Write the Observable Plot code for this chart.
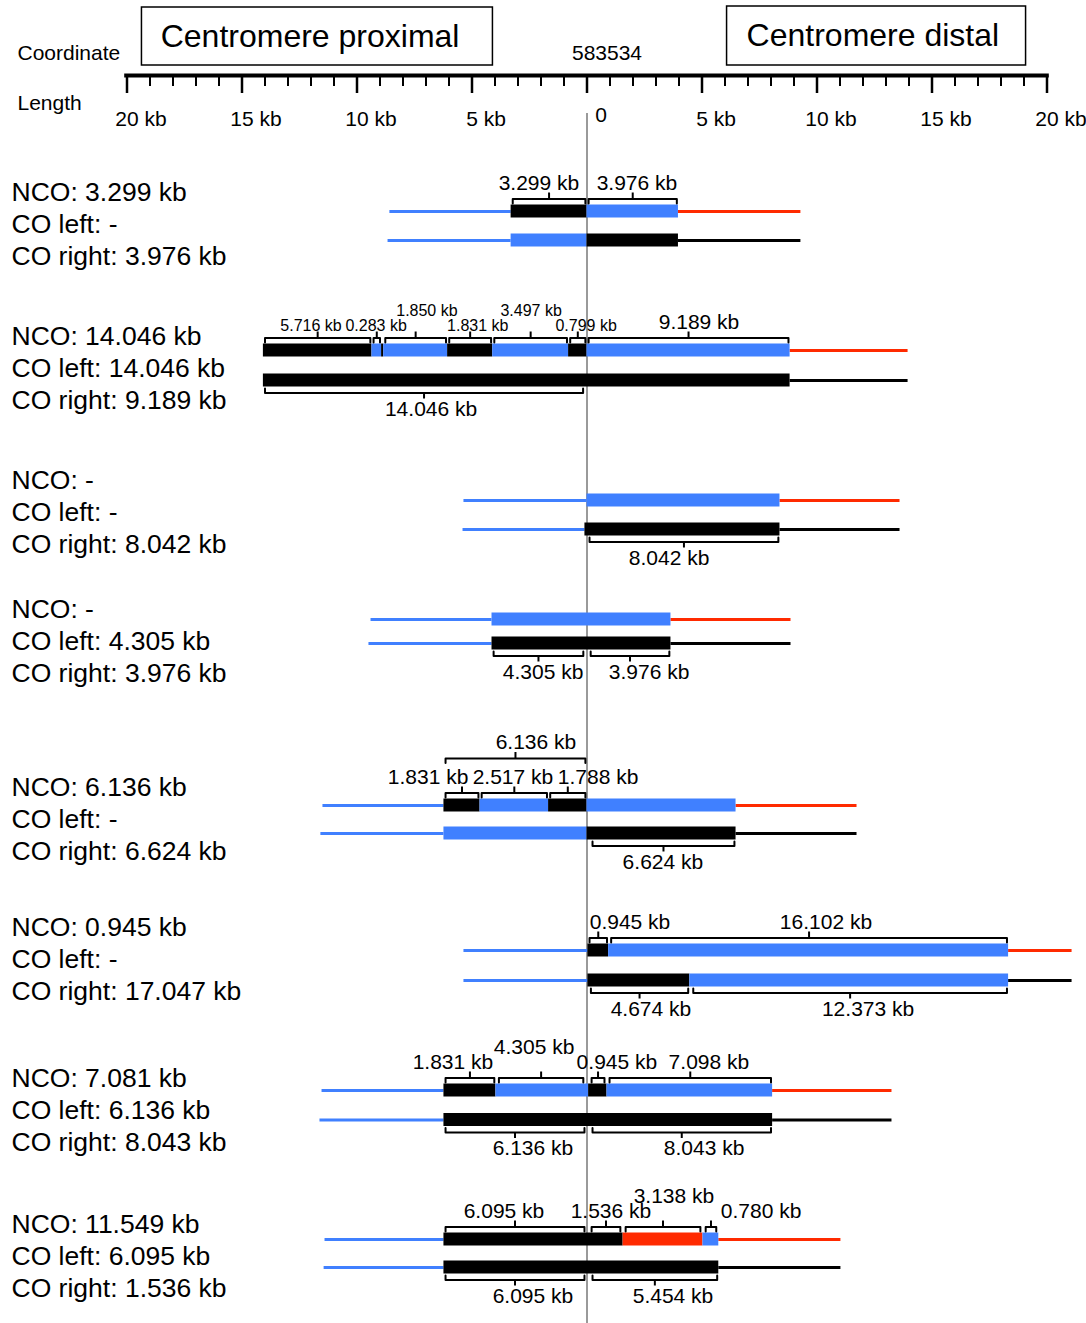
<!DOCTYPE html>
<html><head><meta charset="utf-8">
<script src="https://cdn.jsdelivr.net/npm/d3@7"></script>
<script src="https://cdn.jsdelivr.net/npm/@observablehq/plot@0.6"></script>
<style>html,body{margin:0;padding:0;background:#fff;} #chart svg{display:block}</style>
</head><body><div id="chart"></div>
<script>
// ---------------- data ----------------
const rowLabels = [
  ["NCO: 3.299 kb", "CO left: -", "CO right: 3.976 kb"],
  ["NCO: 14.046 kb", "CO left: 14.046 kb", "CO right: 9.189 kb"],
  ["NCO: -", "CO left: -", "CO right: 8.042 kb"],
  ["NCO: -", "CO left: 4.305 kb", "CO right: 3.976 kb"],
  ["NCO: 6.136 kb", "CO left: -", "CO right: 6.624 kb"],
  ["NCO: 0.945 kb", "CO left: -", "CO right: 17.047 kb"],
  ["NCO: 7.081 kb", "CO left: 6.136 kb", "CO right: 8.043 kb"],
  ["NCO: 11.549 kb", "CO left: 6.095 kb", "CO right: 1.536 kb"]
];
const axisMajor = [-20, -15, -10, -5, 0, 5, 10, 15, 20];
const axisMinor = d3.range(-20, 21, 1);
const axisTickLabels = ["20 kb", "15 kb", "10 kb", "5 kb", "0", "5 kb", "10 kb", "15 kb", "20 kb"];
const centerCoordinate = "583534";
const regionTitles = ["Centromere proximal", "Centromere distal"];
const alleles = ["K", "B", "R"]; // black, blue, red

// thick tracts: [row, track (0 top / 1 bottom), start kb, end kb, allele]
const segments = [
  [0,0,-3.299,0,"K"],[0,0,0,3.976,"B"],[0,1,-3.299,0,"B"],[0,1,0,3.976,"K"],
  [1,0,-14.07,-9.35,"K"],[1,0,-9.35,-8.93,"B"],[1,0,-8.93,-8.84,"K"],[1,0,-8.84,-6.06,"B"],
  [1,0,-6.06,-4.10,"K"],[1,0,-4.10,-0.80,"B"],[1,0,-0.80,0,"K"],[1,0,0,8.83,"B"],
  [1,1,-14.07,8.83,"K"],
  [2,0,0,8.39,"B"],[2,1,-0.09,8.39,"K"],
  [3,0,-4.13,3.65,"B"],[3,1,-4.13,3.65,"K"],
  [4,0,-6.22,-4.65,"K"],[4,0,-4.65,-1.67,"B"],[4,0,-1.67,0,"K"],[4,0,0,6.48,"B"],
  [4,1,-6.22,0,"B"],[4,1,0,6.48,"K"],
  [5,0,0.04,0.94,"K"],[5,0,0.94,18.33,"B"],[5,1,0.04,4.47,"K"],[5,1,4.47,18.33,"B"],
  [6,0,-6.22,-3.96,"K"],[6,0,-3.96,0.07,"B"],[6,0,0.07,0.87,"K"],[6,0,0.87,8.07,"B"],
  [6,1,-6.22,8.07,"K"],
  [7,0,-6.22,1.57,"K"],[7,0,1.57,5.04,"R"],[7,0,5.04,5.73,"B"],[7,1,-6.22,5.73,"K"]
];
// thin flanking lines: [row, track, start kb, end kb, allele]
const flanks = [
  [0,0,-8.57,-3.299,"B"],[0,0,3.976,9.30,"R"],[0,1,-8.65,-3.299,"B"],[0,1,3.976,9.30,"K"],
  [1,0,8.83,13.96,"R"],[1,1,8.83,13.96,"K"],
  [2,0,-5.35,0,"B"],[2,0,8.39,13.61,"R"],[2,1,-5.39,-0.09,"B"],[2,1,8.39,13.61,"K"],
  [3,0,-9.39,-4.13,"B"],[3,0,3.65,8.87,"R"],[3,1,-9.48,-4.13,"B"],[3,1,3.65,8.87,"K"],
  [4,0,-11.48,-6.22,"B"],[4,0,6.48,11.74,"R"],[4,1,-11.57,-6.22,"B"],[4,1,6.48,11.74,"K"],
  [5,0,-5.35,0.04,"B"],[5,0,18.33,21.09,"R"],[5,1,-5.35,0.04,"B"],[5,1,18.33,21.09,"K"],
  [6,0,-11.52,-6.22,"B"],[6,0,8.07,13.26,"R"],[6,1,-11.61,-6.22,"B"],[6,1,8.07,13.26,"K"],
  [7,0,-11.39,-6.22,"B"],[7,0,5.73,11.04,"R"],[7,1,-11.43,-6.22,"B"],[7,1,5.73,11.04,"K"]
];
// length brackets: row, track, from/to kb, text, label centre kb (at), nest / lift / small flags
const brackets = [
  {row:0,track:0,from:-3.299,to:0,text:"3.299 kb",at:-2.09},
  {row:0,track:0,from:0,to:3.976,text:"3.976 kb",at:2.17},
  {row:1,track:0,from:-14.07,to:-9.35,text:"5.716 kb",at:-12.0,small:1},
  {row:1,track:0,from:-9.35,to:-8.93,text:"0.283 kb",at:-9.17,small:1},
  {row:1,track:0,from:-8.84,to:-6.06,text:"1.850 kb",at:-6.96,small:1,lift:1},
  {row:1,track:0,from:-6.06,to:-4.10,text:"1.831 kb",at:-4.75,small:1},
  {row:1,track:0,from:-4.10,to:-0.80,text:"3.497 kb",at:-2.43,small:1,lift:1},
  {row:1,track:0,from:-0.80,to:0,text:"0.799 kb",at:-0.04,small:1},
  {row:1,track:0,from:0,to:8.83,text:"9.189 kb",at:4.87},
  {row:1,track:1,from:-14.07,to:-0.10,text:"14.046 kb",at:-6.78},
  {row:2,track:1,from:0.04,to:8.39,text:"8.042 kb",at:3.57},
  {row:3,track:1,from:-4.13,to:-0.09,text:"4.305 kb",at:-1.91},
  {row:3,track:1,from:0.09,to:3.65,text:"3.976 kb",at:2.70},
  {row:4,track:0,from:-6.22,to:0,text:"6.136 kb",at:-2.22,nest:1},
  {row:4,track:0,from:-6.22,to:-4.65,text:"1.831 kb",at:-6.91},
  {row:4,track:0,from:-4.65,to:-1.67,text:"2.517 kb",at:-3.22},
  {row:4,track:0,from:-1.67,to:0,text:"1.788 kb",at:0.48},
  {row:4,track:1,from:0.17,to:6.48,text:"6.624 kb",at:3.30},
  {row:5,track:0,from:0.04,to:0.94,text:"0.945 kb",at:1.87},
  {row:5,track:0,from:0.98,to:18.33,text:"16.102 kb",at:10.39},
  {row:5,track:1,from:0.10,to:4.47,text:"4.674 kb",at:2.78},
  {row:5,track:1,from:4.55,to:18.33,text:"12.373 kb",at:12.22},
  {row:6,track:0,from:-6.22,to:-3.96,text:"1.831 kb",at:-5.83},
  {row:6,track:0,from:-3.90,to:-0.09,text:"4.305 kb",at:-2.30,lift:1},
  {row:6,track:0,from:0.13,to:0.83,text:"0.945 kb",at:1.30},
  {row:6,track:0,from:0.91,to:8.07,text:"7.098 kb",at:5.30},
  {row:6,track:1,from:-6.22,to:-0.04,text:"6.136 kb",at:-2.35},
  {row:6,track:1,from:0.17,to:8.07,text:"8.043 kb",at:5.09},
  {row:7,track:0,from:-6.22,to:-0.04,text:"6.095 kb",at:-3.61},
  {row:7,track:0,from:0.13,to:1.52,text:"1.536 kb",at:1.04},
  {row:7,track:0,from:1.61,to:5.00,text:"3.138 kb",at:3.78,lift:1},
  {row:7,track:0,from:5.09,to:5.69,text:"0.780 kb",at:7.57},
  {row:7,track:1,from:-6.22,to:-0.04,text:"6.095 kb",at:-2.35},
  {row:7,track:1,from:0.17,to:5.73,text:"5.454 kb",at:3.74}
];

// ---------------- layout ----------------
const W = 1086, H = 1323;
const rowY = [[211,240],[350,380],[500,529],[619,643],[805,833],[950,980],[1090,1119.5],[1239,1267]];
const labelTop = [192,336,480,609,787,927,1078,1224];
const lineGap = 32;
const barH = 13;
const bracketGap = 12.5, nestGap = 47, inset = 0.07;
const axisY = 75;
const font = "'Liberation Sans', Arial, Helvetica, sans-serif";

const segData = segments.map(([row, track, from, to, allele]) => ({row, track, from, to, allele, y: rowY[row][track]}));
const flankData = flanks.map(([row, track, from, to, allele]) => ({row, track, from, to, allele, y: rowY[row][track]}));
const bGeom = brackets.map((b, i) => {
  const dir = b.track === 0 ? -1 : 1;
  const yH = rowY[b.row][b.track] + dir * (b.nest ? nestGap : bracketGap);
  const off = b.track === 0 ? -(b.small ? 12 : 16) - (b.lift ? 15 : 0) : 16;
  return {...b, i, yH, yEnd: yH - dir * 4.5, yNub: yH + dir * 6, mid: (b.from + b.to) / 2, ly: yH + off};
});
const bPts = bGeom.flatMap(b => [
  {i: b.i, x: b.from + inset, y: b.yEnd}, {i: b.i, x: b.from + inset, y: b.yH},
  {i: b.i, x: b.to - inset, y: b.yH}, {i: b.i, x: b.to - inset, y: b.yEnd}
]);
const leftText = rowLabels.flatMap((lines, r) => lines.map((t, k) => ({t, y: labelTop[r] + k * lineGap})));
const boxes = [
  {title: regionTitles[0], x1: -19.35, x2: -4.09, y1: 7, y2: 65, cx: -12.04},
  {title: regionTitles[1], x1: 6.09, x2: 19.09, y1: 6, y2: 65, cx: 12.43}
];

const chart = Plot.plot({
  width: W, height: H, margin: 0,
  x: {domain: [-20, 20], range: [126.5, 1046.5], axis: null},
  y: {domain: [0, H], range: [0, H], axis: null},
  color: {domain: alleles, range: ["#000000", "#4080ff", "#ff2a00"]},
  style: {fontFamily: font, background: "#fff", color: "#000"},
  marks: [
    // header
    Plot.rect(boxes, {x1: "x1", x2: "x2", y1: "y1", y2: "y2", fill: "none", stroke: "#000", strokeWidth: 1.5}),
    Plot.text(boxes, {x: "cx", y: d => (d.y1 + d.y2) / 2, text: "title", fontSize: 32, fill: "#000"}),
    Plot.text(["Coordinate", "Length"], {frameAnchor: "left", dx: 17, y: (d, i) => i ? 103 : 53, text: d => d, textAnchor: "start", fontSize: 21, fill: "#000"}),
    Plot.text([0], {x: d => d, y: 53, dx: 20, text: () => centerCoordinate, fontSize: 21, fill: "#000"}),
    // axis
    Plot.ruleY([axisY], {x1: -20.1, x2: 20.1, stroke: "#000", strokeWidth: 4}),
    Plot.ruleX(axisMinor, {x: d => d, y1: axisY, y2: axisY + 11, stroke: "#000", strokeWidth: 2}),
    Plot.ruleX(axisMajor, {x: d => d, y1: axisY, y2: axisY + 18, stroke: "#000", strokeWidth: 2.5}),
    Plot.text(axisMajor, {x: d => d, y: d => d === 0 ? 115 : 119, dx: 14, text: (d, i) => axisTickLabels[i], fontSize: 21, fill: "#000"}),
    // centre line
    Plot.ruleX([0], {x: d => d, y1: 113, y2: H, stroke: "#9a9a9a", strokeWidth: 2}),
    // flanks and tracts
    Plot.ruleY(flankData, {x1: "from", x2: "to", y: "y", stroke: "allele", strokeWidth: 3}),
    Plot.rect(segData, {x1: "from", x2: "to", y1: d => d.y - barH / 2, y2: d => d.y + barH / 2, fill: "allele", inset: 0}),
    // brackets
    Plot.line(bPts, {x: "x", y: "y", z: "i", stroke: "#000", strokeWidth: 2, strokeLinejoin: "round", strokeLinecap: "round"}),
    Plot.ruleX(bGeom, {x: "mid", y1: "yH", y2: "yNub", stroke: "#000", strokeWidth: 2}),
    Plot.text(bGeom.filter(b => !b.small), {x: "at", y: "ly", text: "text", fontSize: 21, fill: "#000"}),
    Plot.text(bGeom.filter(b => b.small), {x: "at", y: "ly", text: "text", fontSize: 16, fill: "#000"}),
    // row labels
    Plot.text(leftText, {frameAnchor: "left", dx: 11, y: "y", text: "t", textAnchor: "start", fontSize: 26.5, fill: "#000"})
  ]
});
document.getElementById("chart").appendChild(chart);
</script>
</body></html>
